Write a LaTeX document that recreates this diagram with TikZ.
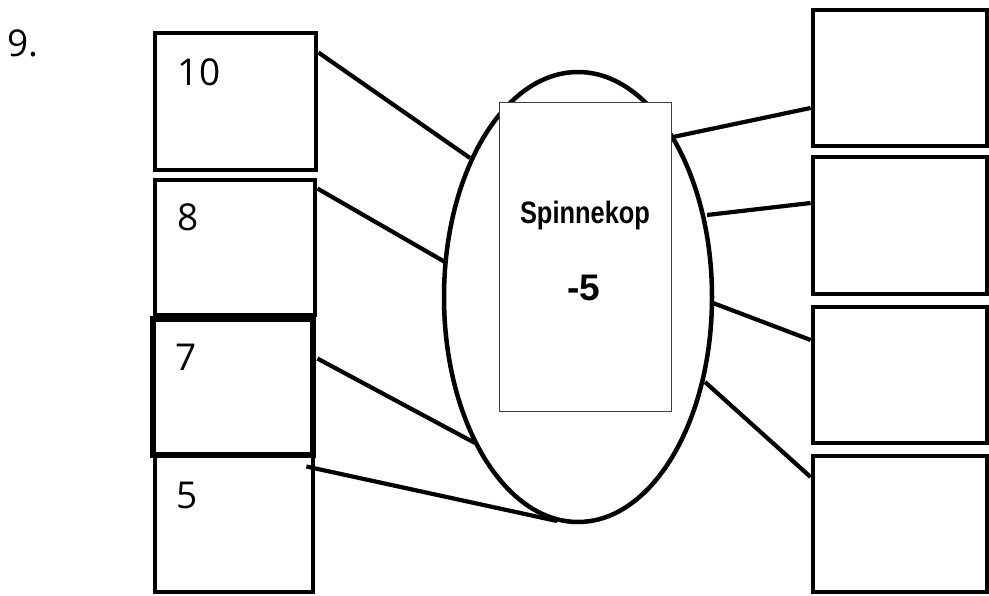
\documentclass[tikz,border=0pt]{standalone}
\usepackage{fontspec}
\setmainfont{Open Sans}
\newfontfamily\spinfont[FakeStretch=0.82]{Liberation Sans}
\newfontfamily\boldsans{Liberation Sans}
\usetikzlibrary{shapes.geometric}
\begin{document}
\begin{tikzpicture}[x=1pt,y=-1pt,
  box/.style={draw,line width=4.8pt,minimum width=160pt,minimum height=136pt,inner sep=0pt},
  num/.style={inner sep=0pt,font=\fontsize{37}{40}\selectfont},
  conn/.style={line width=4.2pt}]
\useasboundingbox (0,0) rectangle (989,596);
% left boxes
\node[box,minimum width=161pt,minimum height=137pt] (b10) at (235.5,101.5) {};
\node[box,minimum width=160pt,minimum height=135pt] (b8) at (235,247.5) {};
\node[box,line width=5.8pt,minimum width=160pt,minimum height=136pt] (b7) at (233,387) {};
\node[box,minimum width=158pt,minimum height=137pt] (b5) at (234,523.5) {};
\node[num] (t9) at (23,43) {9.};
\node[num] (t10) at (199,72) {10};
\node[num] (t8) at (188,217) {8};
\node[num] (t7) at (186,357) {7};
\node[num] (t5) at (187,495) {5};
% right boxes
\node[box,minimum width=174pt] (r1) at (900,78) {};
\node[box,minimum width=174pt,minimum height=137pt] (r2) at (900,225.5) {};
\node[box,minimum width=174pt] (r3) at (900,375) {};
\node[box,minimum width=174pt] (r4) at (900,524) {};
% ellipse
\node[draw,ellipse,line width=4.5pt,minimum width=268pt,minimum height=450pt,inner sep=0pt] (ell) at (578,297) {};
\coordinate (e10) at (470,158);
\coordinate (e8) at (445,262);
\coordinate (e7) at (475,443);
\coordinate (e5) at (557,521);
\coordinate (er1) at (673,137);
\coordinate (er2) at (707,215);
\coordinate (er3) at (713,303);
\coordinate (er4) at (705,382);
% connectors
\draw[conn] ([yshift=49pt]b10.east) -- (e10);
\draw[conn] ([yshift=59pt]b8.east) -- (e8);
\draw[conn] ([xshift=1.5pt,yshift=28.5pt]b7.east) -- (e7);
\draw[conn] ([xshift=-9pt,yshift=57pt]b5.east) -- (e5);
\draw[conn] (er1) -- ([yshift=-30pt]r1.west);
\draw[conn] (er2) -- ([yshift=22.5pt]r2.west);
\draw[conn] (er3) -- ([yshift=35pt]r3.west);
\draw[conn] (er4) -- ([yshift=47pt]r4.west);
% inner rectangle
\node[draw=black!75,line width=1pt,fill=white,minimum width=172pt,minimum height=308pt,inner sep=0pt] (inner) at (585,257) {};
\node[inner sep=0pt,font=\spinfont\bfseries\fontsize{31}{34}\selectfont] (tspin) at (585,215) {Spinnekop};
\node[inner sep=0pt,font=\boldsans\bfseries\fontsize{37}{40}\selectfont] (tval) at (584,288) {-5};
\end{tikzpicture}
\end{document}
